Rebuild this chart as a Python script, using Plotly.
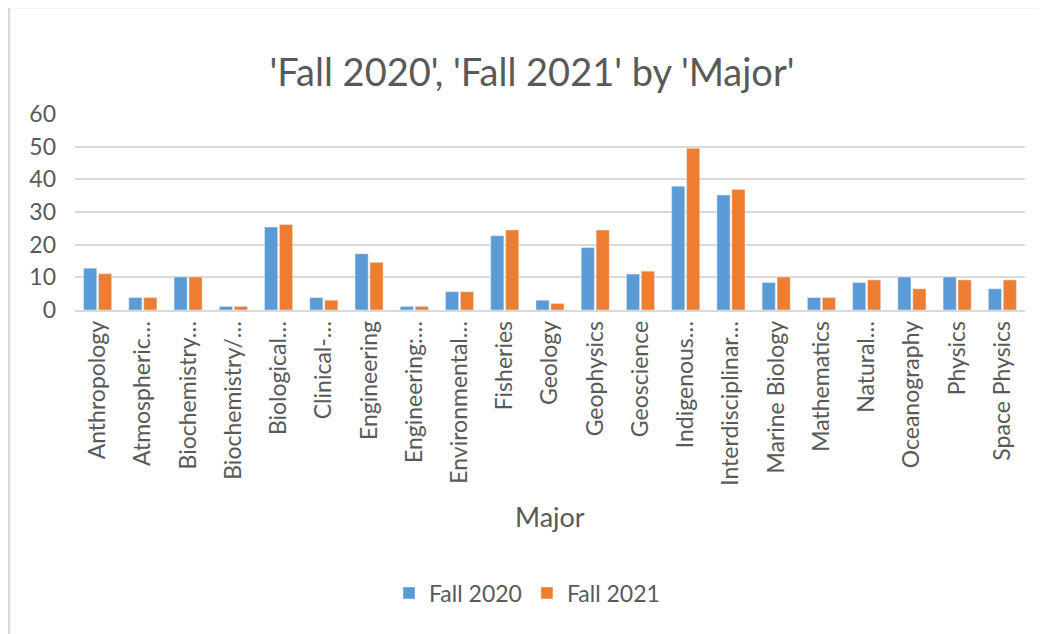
import plotly.graph_objects as go

majors = ["Anthropology", "Atmospheric…", "Biochemistry…", "Biochemistry/…", "Biological…",
          "Clinical-…", "Engineering", "Engineering:…", "Environmental…", "Fisheries",
          "Geology", "Geophysics", "Geoscience", "Indigenous…", "Interdisciplinar…",
          "Marine Biology", "Mathematics", "Natural…", "Oceanography", "Physics", "Space Physics"]
fall_2020 = [12.8, 3.8, 10.1, 1.1, 25.4, 3.8, 17.2, 1.1, 5.6, 22.7, 3.0, 19.1, 11.0, 37.9, 35.2,
             8.4, 3.8, 8.4, 10.1, 10.1, 6.5]
fall_2021 = [11.1, 3.8, 10.1, 1.1, 26.2, 3.0, 14.6, 1.1, 5.6, 24.5, 2.0, 24.5, 11.9, 49.5, 36.9,
             10.1, 3.8, 9.2, 6.5, 9.2, 9.2]

FONT = "Lato, 'Open Sans', sans-serif"
TXT = "#595959"
GRID = "#D9D9D9"

OFF = 8  # page body margin
W, H = 1047, 634
# desired plot area in page pixels: x 75..1025, y 114..310
L = 75 - OFF
T = 114 - OFF
R = W - (1025 - OFF)
B = H - (310 - OFF)
pw, ph = W - L - R, H - T - B

def px(x):  # page pixel -> paper x
    return (x - OFF - L) / pw

def py(y):  # page pixel -> paper y
    return (H - B - (y - OFF)) / ph

fig = go.Figure()
fig.add_trace(go.Bar(name="Fall 2020", x=majors, y=fall_2020, marker_color="#5B9BD5"))
fig.add_trace(go.Bar(name="Fall 2021", x=majors, y=fall_2021, marker_color="#ED7D31"))

fig.update_layout(
    width=W, height=H, autosize=False,
    margin=dict(l=L, r=R, t=T, b=B, autoexpand=False),
    paper_bgcolor="white", plot_bgcolor="white",
    font=dict(family=FONT, color=TXT, size=20),
    barmode="group", bargap=0.34, bargroupgap=0.12,
    title=dict(text="'Fall 2020', 'Fall 2021' by 'Major'", x=px(532), xref="paper",
               y=1 - (73 - OFF) / H, yref="container", yanchor="middle", xanchor="center",
               font=dict(size=38, color=TXT, family=FONT)),
    showlegend=True,
    legend=dict(orientation="h", x=px(527), xref="paper", xanchor="center",
                y=py(593), yref="paper", yanchor="middle", font=dict(size=23, color=TXT),
                traceorder="normal"),
    xaxis=dict(tickangle=-90, showline=True, linecolor=GRID, linewidth=1.5,
               ticks="", tickfont=dict(size=23, color=TXT), showgrid=False,
               automargin=False),
    yaxis=dict(range=[0, 60], dtick=10, showgrid=True, gridcolor=GRID, gridwidth=1.5,
               zeroline=False, showline=False, ticks="", tickfont=dict(size=23, color=TXT),
               ticklabelstandoff=18, automargin=False),
)

fig.add_annotation(text="Major", x=0.5, xref="paper", y=py(517), yref="paper",
                   showarrow=False, font=dict(size=27, color=TXT, family=FONT),
                   xanchor="center", yanchor="middle")

# chart-area border (top and left visible)
fig.add_shape(type="line", xref="paper", yref="paper", x0=px(9), x1=px(9), y0=py(H + 20), y1=py(7),
              line=dict(color=GRID, width=2.5))
fig.add_shape(type="line", xref="paper", yref="paper", x0=px(9), x1=px(W + 20), y0=py(7), y1=py(7),
              line=dict(color=GRID, width=2.5))

fig.write_html("out.html")
